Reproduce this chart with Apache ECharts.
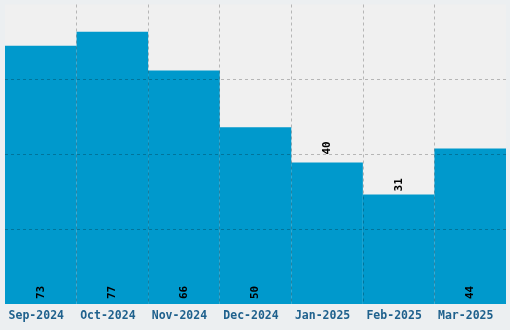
<!DOCTYPE html>
<html><head><meta charset="utf-8">
<script src="https://cdn.jsdelivr.net/npm/echarts@6/dist/echarts.min.js"></script>
<style>html,body{margin:0;padding:0;background:#eceff1;}#c{width:510px;height:330px;}</style>
</head><body><div id="c"></div>
<script>
const categories = ['Sep-2024','Oct-2024','Nov-2024','Dec-2024','Jan-2025','Feb-2025','Mar-2025'];
const values = [73, 77, 66, 50, 40, 31, 44];
const labelOutside = [false, false, false, false, true, true, false];
const labelOutsideGap = [0, 0, 0, 0, 8, 3, 0];

const yMax = 84.7;
const chart = echarts.init(document.getElementById('c'), null, {renderer:'canvas'});
chart.setOption({
  backgroundColor: '#eceff1',
  animation: false,
  grid: {left: 5, right: 4, top: 4.5, bottom: 26, show: true, backgroundColor: '#f0f0f0', borderWidth: 0},
  xAxis: {
    type: 'category', data: categories, z: 10,
    axisLine: {show: false}, axisTick: {show: false},
    axisLabel: {interval: 0, margin: 6, fontFamily: 'DejaVu Sans Mono', fontWeight: 'bold', fontSize: 11.5, color: '#1f618d', padding: [0, 9, 0, 0]},
    splitLine: {show: true, interval: 0, showMinLine: false, showMaxLine: false, lineStyle: {type: [3, 3], color: 'rgba(0,0,0,0.24)', width: 1}}
  },
  yAxis: {
    type: 'value', min: 0, max: yMax, interval: yMax / 4, z: 10,
    axisLine: {show: false}, axisTick: {show: false}, axisLabel: {show: false},
    splitLine: {show: true, showMinLine: false, showMaxLine: false, lineStyle: {type: [3, 3], color: 'rgba(0,0,0,0.24)', width: 1}}
  },
  series: [{
    type: 'bar', barCategoryGap: 0, z: 2,
    itemStyle: {color: '#0099cc'},
    data: values.map((v, i) => ({
      value: v,
      label: labelOutside[i]
        ? {show: true, position: 'top', distance: labelOutsideGap[i], rotate: 90, align: 'left', verticalAlign: 'middle'}
        : {show: true, position: 'insideBottom', distance: 5, rotate: 90, align: 'left', verticalAlign: 'middle'}
    })),
    label: {fontFamily: 'DejaVu Sans Mono', fontWeight: 'bold', fontSize: 11, color: '#000'}
  }]
});
</script></body></html>
